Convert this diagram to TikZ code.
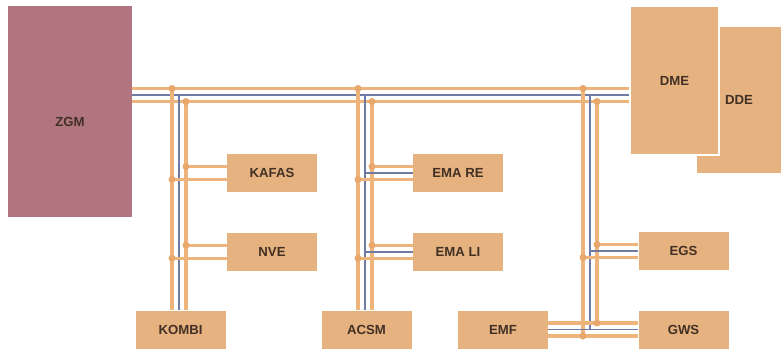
\documentclass[tikz,border=0pt]{standalone}
\usepackage{fontspec}
\setmainfont{Liberation Sans}
\usetikzlibrary{
    calc,
    positioning,
    backgrounds
}
\definecolor{ink}{RGB}{66,48,36}
\definecolor{ecufill}{RGB}{229,178,128}
\definecolor{gatewayfill}{RGB}{177,117,127}
\definecolor{wireorange}{RGB}{238,180,124}
\definecolor{wireblue}{RGB}{112,122,166}
\definecolor{jointfill}{RGB}{232,168,108}
\tikzset{
    ecu/.style={
        rectangle,
        fill=ecufill,
        text=ink,
        minimum width=1.8cm,
        minimum height=0.76cm,
        inner sep=0pt,
        font=\fontsize{7.5}{9}\selectfont\bfseries
    },
    bigecu/.style={ecu, draw=white, line width=0.8pt},
    gateway/.style={ecu, fill=gatewayfill},
    wireo/.style={draw=wireorange, line width=1.8pt},
    wireb/.style={draw=wireblue, line width=1.1pt},
    joint/.style={circle, fill=jointfill, inner sep=0pt, minimum size=0.14cm}
}

\begin{document}
\begin{tikzpicture}
\path[use as bounding box] (0,0) rectangle (15.62,7);

% Control units
\node[gateway, minimum width=2.48cm, minimum height=4.22cm,
    label={[font=\fontsize{7.5}{9}\selectfont\bfseries, text=ink, yshift=-0.2cm]center:ZGM}] (zgm) at (1.40,4.77) {};
\node[ecu, minimum width=1.68cm, minimum height=2.92cm] (dde) at (14.78,5.00) {DDE};
\node[bigecu, minimum width=1.78cm, minimum height=2.98cm] (dme) at (13.49,5.39) {DME};

\node[ecu] (kafas) at (5.44,3.54) {KAFAS};
\node[ecu, below=0.80cm of kafas] (nve) {NVE};
\node[ecu] (kombi) at (3.61,0.41) {KOMBI};
\node[ecu] (emare) at (9.16,3.54) {EMA RE};
\node[ecu, below=0.80cm of emare] (emali) {EMA LI};
\node[ecu] (acsm) at (7.33,0.41) {ACSM};
\node[ecu] (egs) at (13.67,1.98) {EGS};
\node[ecu] (gws) at (13.67,0.41) {GWS};
\node[ecu] (emf) at (10.06,0.41) {EMF};

% Bus centre line and branch points
\coordinate (bus) at (0,5.10);
\coordinate (br1) at (3.58,5.10);
\coordinate (br2) at (7.30,5.10);
\coordinate (br3) at (11.80,5.10);

\begin{scope}[on background layer]
    \fill[white] (0,0) rectangle (15.62,7);

    % Backbone ZGM -- DME
    \foreach \dy/\w in {0/wireb, 0.13/wireo, -0.13/wireo}
        \draw[\w] ($(zgm.east |- bus)+(0,\dy)$) -- ($(dme.west |- bus)+(0,\dy)$);

    % Branches down to KOMBI and ACSM
    \foreach \br/\dev in {br1/kombi, br2/acsm}
        \foreach \dx/\dy/\w in {0/0/wireb, -0.14/0.13/wireo, 0.14/-0.13/wireo}
            \draw[\w] ($(\br)+(\dx,\dy)$) -- ($(\br |- \dev.north)+(\dx,0)$);

    % Branch down to the EMF -- GWS link
    \foreach \dx/\dy/\w in {0/0/wireb, -0.14/0.13/wireo, 0.14/-0.13/wireo}
        \draw[\w] ($(br3)+(\dx,\dy)$) -- ($(br3 |- emf)+(\dx,-\dy)$);
    \foreach \dy/\w in {0/wireb, 0.13/wireo, -0.13/wireo}
        \draw[\w] ($(emf.east)+(0,\dy)$) -- ($(gws.west)+(0,\dy)$);

    % Stubs to the side units
    \foreach \br/\dev in {br2/emare, br2/emali, br3/egs}
        \draw[wireb] (\br |- \dev) -- (\dev.west);
    \foreach \br/\dev in {br1/kafas, br1/nve, br2/emare, br2/emali, br3/egs} {
        \draw[wireo] ($(\br |- \dev)+(0.14,0.13)$) -- ($(\dev.west)+(0,0.13)$);
        \draw[wireo] ($(\br |- \dev)+(-0.14,-0.13)$) -- ($(\dev.west)+(0,-0.13)$);
        \node[joint] at ($(\br |- \dev)+(0.14,0.13)$) {};
        \node[joint] at ($(\br |- \dev)+(-0.14,-0.13)$) {};
    }

    % Joints on the backbone
    \foreach \br in {br1, br2, br3} {
        \node[joint] at ($(\br)+(-0.14,0.13)$) {};
        \node[joint] at ($(\br)+(0.14,-0.13)$) {};
    }
    \node[joint] at ($(br3 |- emf)+(0.14,0.13)$) {};
    \node[joint] at ($(br3 |- emf)+(-0.14,-0.13)$) {};
\end{scope}
\end{tikzpicture}
\end{document}
